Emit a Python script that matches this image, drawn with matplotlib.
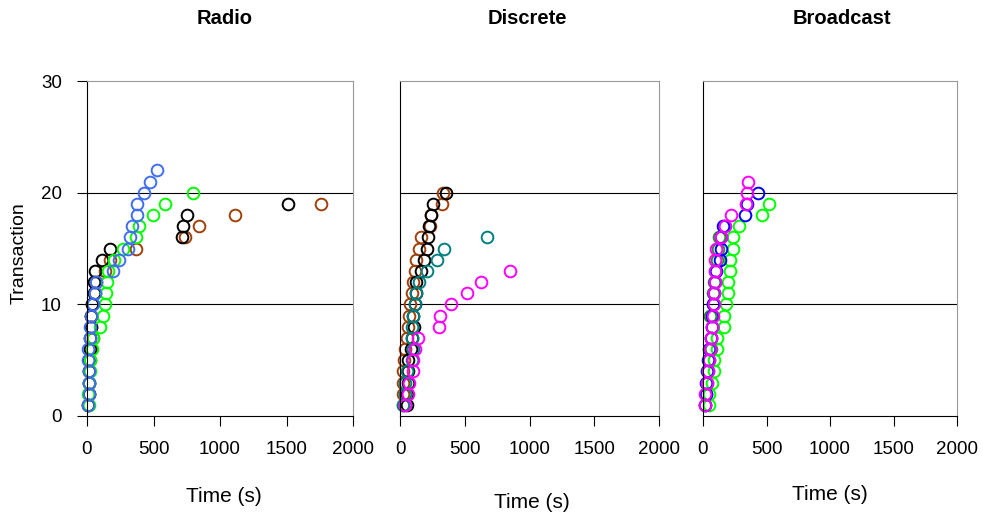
import numpy as np
import matplotlib
matplotlib.use("Agg")
import matplotlib.pyplot as plt

plt.rcParams['font.family'] = ['Liberation Sans', 'DejaVu Sans']

# time (s) needed to reach transaction 1, 2, 3, ...
radio_brown = [10, 12, 15, 18, 20, 28, 45, 28, 32, 40, 57, 65, 132, 175, 365, 740, 845, 1112, 1762]
radio_black = [10, 12, 15, 15, 18, 20, 25, 28, 33, 40, 50, 55, 62, 115, 170, 715, 725, 750, 1515]
radio_green = [15, 8, 15, 20, 20, 38, 45, 95, 120, 132, 145, 152, 158, 202, 270, 365, 390, 495, 590, 795]
radio_blue = [10, 12, 15, 15, 10, 10, 20, 22, 28, 45, 57, 65, 195, 240, 307, 325, 337, 377, 377, 432, 470, 525]

disc_brown = [20, 26, 26, 20, 31, 38, 51, 64, 72, 77, 90, 102, 115, 123, 148, 159, 235, 243, 325, 333]
disc_black = [51, 55, 60, 62, 64, 85, 90, 108, 102, 115, 123, 120, 159, 184, 205, 218, 225, 240, 251, 353]
disc_teal = [26, 38, 38, 51, 90, 97, 90, 90, 97, 115, 123, 148, 210, 287, 340, 671]
disc_magenta = [38, 64, 72, 102, 102, 115, 141, 300, 307, 397, 517, 627, 850]

bc_green = [45, 45, 71, 84, 84, 110, 110, 167, 167, 183, 194, 194, 209, 209, 235, 235, 280, 466, 516]
bc_dkgreen = [15, 25, 30, 40, 50, 60, 65, 70, 58, 75, 78, 85, 95, 110, 115, 123, 167]
bc_blue = [15, 20, 25, 30, 38, 50, 60, 68, 72, 80, 85, 95, 105, 131, 141, 141, 160, 332, 346, 437]
bc_magenta = [18, 18, 31, 37, 45, 58, 65, 71, 78, 84, 89, 97, 97, 97, 105, 141, 175, 220, 340, 346, 353]

panels = [
    ("Radio", [(radio_brown, '#A0400A'), (radio_black, 'black'),
               (radio_green, '#00FF00'), (radio_blue, '#3F6FF0')]),
    ("Discrete", [(disc_brown, '#A0400A'), (disc_black, 'black'),
                  (disc_teal, '#008080'), (disc_magenta, '#FF00FF')]),
    ("Broadcast", [(bc_green, '#00FF00'), (bc_dkgreen, '#2E8B2E'),
                   (bc_blue, '#0000FF'), (bc_magenta, '#FF00FF')]),
]

fig = plt.figure(figsize=(9.83, 5.16), dpi=100)
W, H = 983.0, 516.0
boxes = [(87, 353), (400, 659), (703, 957)]
top, bottom = 81, 416
title_x = [225, 527, 842]
xlabel_pos = [(224, 497), (532, 502), (830, 495)]

for i, (name, series) in enumerate(panels):
    l, r = boxes[i]
    ax = fig.add_axes([l / W, 1 - bottom / H, (r - l) / W, (bottom - top) / H])
    for times, col in series:
        n = np.arange(1, len(times) + 1)
        ax.plot(times, n, 'o', mfc='none', mec=col, ms=8.4, mew=1.4, clip_on=False)
    ax.set_xlim(0, 2000)
    ax.set_ylim(0, 30)
    ax.set_xticks([0, 500, 1000, 1500, 2000])
    ax.set_yticks([0, 10, 20, 30])
    ax.axhline(10, color='black', lw=0.8, zorder=0)
    ax.axhline(20, color='black', lw=0.8, zorder=0)
    for s in ['top', 'right']:
        ax.spines[s].set_color('#999999')
    for s in ['left', 'bottom']:
        ax.spines[s].set_color('black')
    ax.tick_params(axis='x', direction='out', length=7, width=0.8, labelsize=13.5, pad=11)
    if i == 0:
        ax.tick_params(axis='y', direction='out', length=7, width=0.8, labelsize=13.5, pad=11)
        fig.text(19 / W, 1 - 253 / H, 'Transaction', rotation=90, ha='center', va='center', fontsize=14)
    else:
        ax.tick_params(axis='y', left=False, labelleft=False)
    fig.text(title_x[i] / W, 1 - 18 / H, name, ha='center', va='center', fontsize=14.5, fontweight='bold')
    xx, yy = xlabel_pos[i]
    fig.text(xx / W, 1 - yy / H, 'Time (s)', ha='center', va='center', fontsize=15)

plt.savefig("out.png", dpi=100)
